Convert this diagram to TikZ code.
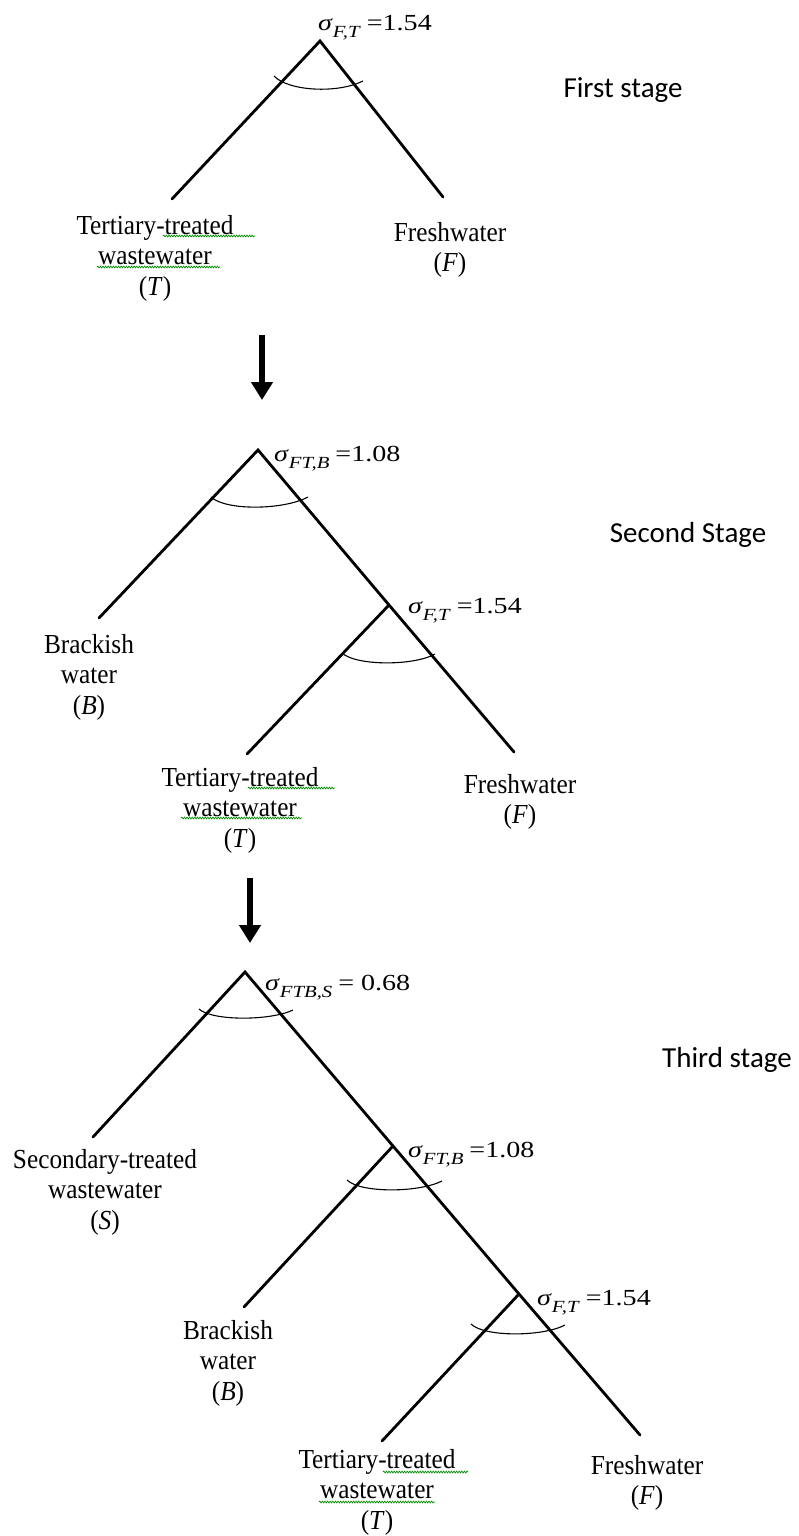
\documentclass[tikz,border=0pt]{standalone}
\usepackage{fontspec}
\setmainfont{Liberation Serif}
\newfontfamily\txtfont[FakeStretch=0.92]{Liberation Serif}
\newfontfamily\labfont[FakeStretch=1.22]{Liberation Serif}
\newfontfamily\stagefont{Carlito}
\usetikzlibrary{arrows.meta,decorations.pathmorphing}
\newcommand\siglab[2]{\textit{σ}\raisebox{-7pt}{\fontsize{17}{17}\selectfont\textit{#1}}\hspace{6pt}#2}
\tikzset{
  leg/.style={line width=2.8pt, line cap=round},
  angarc/.style={line width=1.1pt},
  leaf/.style={font=\txtfont\fontsize{27.5}{30.5}\selectfont, align=center, inner sep=0pt, anchor=north},
  sig/.style={font=\labfont\fontsize{23}{23}\selectfont, inner sep=0pt, anchor=base west},
  stagelab/.style={font=\stagefont\fontsize{29}{29}\selectfont, inner sep=0pt, anchor=center},
  bigarrow/.style={line width=6pt, -{Triangle[width=21pt,length=18pt]}},
  squig/.style={draw=green!55!black, line width=0.7pt, decorate, decoration={snake, amplitude=0.9pt, segment length=2.6pt}}
}
\begin{document}
\begin{tikzpicture}[x=1pt,y=-1pt]
\fill[white] (0,0) rectangle (799,1536);
\useasboundingbox (0,0) rectangle (799,1536);

% ---------- Stage 1 ----------
\coordinate (A1) at (320,41);
\coordinate (T1) at (172,199);
\coordinate (F1) at (443,197);
\draw[leg] (T1) -- (A1) -- (F1);
\draw[angarc] (274,76) .. controls (288,91) and (337,94) .. (363,81);
\node[sig] (s1) at (318,31) {\siglab{F,T}{=1.54}};
\node[leaf] (lT1) at (155,215) {Tertiary-treated\\wastewater\\(\textit{T})};
\node[leaf] (lF1) at (450,222) {Freshwater\\(\textit{F})};
\node[stagelab] (st1) at (623,90) {First stage};
\draw[squig] (163,236) -- (255,236);
\draw[squig] (97,267) -- (220,267);

% arrow 1
\coordinate (a1s) at (262,335);
\coordinate (a1e) at (262,400);
\draw[bigarrow] (a1s) -- (a1e);

% ---------- Stage 2 ----------
\coordinate (A2) at (258,450);
\coordinate (B2) at (99,618);
\coordinate (N2) at (389,605);
\coordinate (T2) at (247,754);
\coordinate (F2) at (514,752);
\draw[leg] (B2) -- (A2) -- (N2) -- (F2);
\draw[leg] (N2) -- (T2);
\draw[angarc] (211,497) .. controls (226,511) and (284,510) .. (308,497);
\draw[angarc] (342,653) .. controls (356,666) and (414,666) .. (435,654);
\node[sig] (s2a) at (274,461) {\siglab{FT,B}{=1.08}};
\node[sig] (s2b) at (408,613) {\siglab{F,T}{=1.54}};
\node[leaf] (lB2) at (89,634) {Brackish\\water\\(\textit{B})};
\node[leaf] (lT2) at (240,767) {Tertiary-treated\\wastewater\\(\textit{T})};
\node[leaf] (lF2) at (520,774) {Freshwater\\(\textit{F})};
\node[stagelab] (st2) at (688,535) {Second Stage};
\draw[squig] (248,788) -- (335,788);
\draw[squig] (181,818) -- (302,818);

% arrow 2
\coordinate (a2s) at (250,878);
\coordinate (a2e) at (250,943);
\draw[bigarrow] (a2s) -- (a2e);

% ---------- Stage 3 ----------
\coordinate (A3) at (245,972);
\coordinate (S3) at (93,1137);
\coordinate (N3a) at (393,1146);
\coordinate (B3) at (244,1307);
\coordinate (N3b) at (519,1294);
\coordinate (T3) at (382,1441);
\coordinate (F3) at (640,1435);
\draw[leg] (S3) -- (A3) -- (N3a) -- (N3b) -- (F3);
\draw[leg] (N3a) -- (B3);
\draw[leg] (N3b) -- (T3);
\draw[angarc] (199,1009) .. controls (212,1021) and (270,1021) .. (293,1010);
\draw[angarc] (347,1180) .. controls (360,1193) and (418,1193) .. (442,1181);
\draw[angarc] (471,1324) .. controls (484,1337) and (542,1337) .. (565,1325);
\node[sig] (s3a) at (265,990) {\siglab{FTB,S}{= 0.68}};
\node[sig] (s3b) at (408,1157) {\siglab{FT,B}{=1.08}};
\node[sig] (s3c) at (537,1305) {\siglab{F,T}{=1.54}};
\node[leaf] (lS3) at (105,1149) {Secondary-treated\\wastewater\\(\textit{S})};
\node[leaf] (lB3) at (228,1320) {Brackish\\water\\(\textit{B})};
\node[leaf] (lT3) at (377,1449) {Tertiary-treated\\wastewater\\(\textit{T})};
\node[leaf] (lF3) at (647,1455) {Freshwater\\(\textit{F})};
\node[stagelab] (st3) at (727,1060) {Third stage};
\draw[squig] (383,1472) -- (468,1472);
\draw[squig] (319,1502) -- (435,1502);
\end{tikzpicture}
\end{document}
